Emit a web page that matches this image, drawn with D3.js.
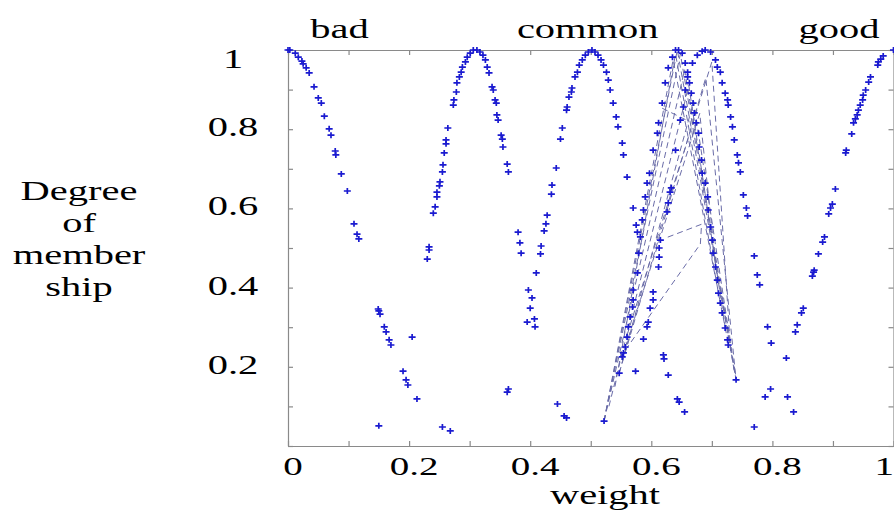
<!DOCTYPE html>
<html>
<head>
<meta charset="utf-8">
<script src="https://cdn.jsdelivr.net/npm/d3@7"></script>
<style>
body { margin: 0; background: #fff; }
text { font-family: "Liberation Serif", "Times New Roman", serif; fill: #000; }
</style>
</head>
<body>
<svg id="mainsvg" width="894" height="513"></svg>
<script>
// ---- data: [weight, degree of membership] ----
let badPts = [[0.0,1.0],[0.003,1.0],[0.012,0.992],[0.017,0.982],[0.023,0.972],[0.025,0.965],[0.030,0.955],
    [0.035,0.942],[0.043,0.907],[0.050,0.879],[0.055,0.866],[0.060,0.833],[0.068,0.801],[0.071,0.785],
    [0.078,0.745],[0.079,0.735],[0.088,0.687],[0.098,0.644],[0.109,0.561],[0.114,0.535],[0.117,0.523],
    [0.149,0.346],[0.150,0.341],[0.152,0.333],[0.159,0.301],[0.162,0.288],[0.167,0.268],[0.170,0.255],
    [0.190,0.189],[0.195,0.167],[0.198,0.154],[0.213,0.119]];

let curveA = [[0.230,0.472],[0.233,0.503],[0.233,0.495],[0.240,0.588],[0.243,0.604],[0.246,0.629],[0.246,0.641],
    [0.250,0.657],[0.251,0.667],[0.255,0.692],[0.256,0.710],[0.258,0.740],[0.261,0.763],[0.261,0.773],
    [0.264,0.803],[0.273,0.861],[0.274,0.874],[0.278,0.894],[0.279,0.917],[0.283,0.932],[0.286,0.944],
    [0.288,0.957],[0.293,0.970],[0.296,0.982],[0.301,0.992],[0.306,1.0],[0.312,1.0],[0.317,0.995],
    [0.322,0.987],[0.326,0.975],[0.329,0.957],[0.332,0.942],[0.337,0.907],[0.339,0.899],[0.342,0.874],
    [0.344,0.866],[0.345,0.836],[0.347,0.823],[0.352,0.785],[0.354,0.775],[0.355,0.755],[0.362,0.712],
    [0.364,0.692],[0.380,0.540],[0.383,0.513],[0.385,0.487],[0.397,0.394],[0.403,0.374],[0.400,0.348],
    [0.395,0.313],[0.407,0.321],[0.408,0.301]];

let curveB = [[0.410,0.437],[0.417,0.485],[0.418,0.505],[0.423,0.543],[0.426,0.561],[0.428,0.583],[0.435,0.636],
    [0.436,0.659],[0.443,0.702],[0.450,0.775],[0.453,0.803],[0.460,0.848],[0.461,0.856],[0.464,0.881],
    [0.468,0.894],[0.469,0.904],[0.474,0.932],[0.478,0.944],[0.481,0.962],[0.486,0.975],[0.491,0.987],
    [0.496,0.995],[0.502,1.0],[0.507,0.995],[0.512,0.987],[0.517,0.975],[0.521,0.962],[0.526,0.944],
    [0.529,0.924],[0.532,0.899],[0.537,0.866],[0.542,0.831],[0.545,0.806],[0.552,0.765],[0.554,0.735],
    [0.560,0.679],[0.570,0.601],[0.575,0.558],[0.577,0.540]];

let curveC = [[0.522,0.063],[0.547,0.184],[0.552,0.225],[0.554,0.235],[0.557,0.250],[0.560,0.275],[0.562,0.301],
    [0.565,0.326],[0.569,0.351],[0.570,0.369],[0.570,0.394],[0.577,0.437],[0.579,0.487],[0.582,0.528],
    [0.585,0.571],[0.587,0.596],[0.590,0.629],[0.593,0.664],[0.597,0.689],[0.603,0.747],[0.610,0.790],
    [0.612,0.816],[0.618,0.866],[0.623,0.917],[0.628,0.955],[0.635,0.982],[0.640,1.0],[0.645,1.0],
    [0.651,0.992],[0.656,0.967],[0.660,0.944],[0.663,0.917],[0.666,0.891],[0.669,0.866],[0.671,0.841],
    [0.674,0.816],[0.678,0.790],[0.679,0.755],[0.683,0.722],[0.684,0.689],[0.689,0.664],[0.693,0.629],
    [0.694,0.596],[0.698,0.553],[0.701,0.520],[0.702,0.487],[0.706,0.452],[0.709,0.419],[0.711,0.386],
    [0.714,0.361],[0.717,0.336],[0.722,0.298],[0.726,0.268],[0.727,0.255],[0.740,0.167]];

let curveD = [[0.574,0.189],[0.587,0.270],[0.593,0.301],[0.595,0.313],[0.598,0.348],[0.603,0.369],[0.603,0.389],
    [0.612,0.452],[0.613,0.477],[0.613,0.500],[0.615,0.520],[0.626,0.591],[0.628,0.614],[0.631,0.641],
    [0.633,0.652],[0.640,0.747],[0.648,0.823],[0.653,0.856],[0.656,0.899],[0.660,0.932],[0.668,0.967],
    [0.676,0.987],[0.684,0.997],[0.689,1.0],[0.698,0.995],[0.706,0.975],[0.709,0.957],[0.714,0.944],
    [0.717,0.917],[0.722,0.891],[0.726,0.874],[0.727,0.861],[0.731,0.831],[0.734,0.806],[0.737,0.773],
    [0.742,0.735],[0.744,0.715],[0.747,0.692],[0.752,0.634],[0.757,0.601],[0.759,0.581],[0.770,0.480],
    [0.775,0.432],[0.779,0.407],[0.792,0.301],[0.798,0.260]];

let goodPts = [[0.838,0.288],[0.841,0.306],[0.848,0.336],[0.851,0.348],[0.866,0.429],[0.868,0.439],[0.869,0.444],
    [0.876,0.485],[0.883,0.515],[0.886,0.528],[0.893,0.586],[0.896,0.601],[0.899,0.611],[0.904,0.649],
    [0.921,0.740],[0.922,0.747],[0.931,0.788],[0.934,0.816],[0.937,0.826],[0.940,0.836],[0.942,0.848],
    [0.945,0.861],[0.949,0.874],[0.950,0.886],[0.954,0.899],[0.959,0.919],[0.962,0.932],[0.974,0.962],
    [0.975,0.970],[0.979,0.977],[0.983,0.985],[1.0,1.0]];

let strayPts = [[0.150,0.051],[0.205,0.275],[0.255,0.048],[0.268,0.038],[0.362,0.136],[0.364,0.144],
    [0.445,0.106],[0.456,0.076],[0.460,0.071],[0.620,0.230],[0.621,0.220],[0.628,0.179],[0.643,0.119],
    [0.646,0.111],[0.655,0.086],[0.770,0.048],[0.788,0.124],[0.797,0.144],[0.823,0.222],[0.825,0.124],
    [0.835,0.086]];

// dashed paths running through the dense region
let fanLines = [
    [[0.522,0.063],[0.643,1.0],[0.740,0.167]],
    [[0.522,0.063],[0.648,0.99],[0.737,0.19]],
    [[0.522,0.063],[0.636,0.975],[0.727,0.26]],
    [[0.522,0.063],[0.655,0.95],[0.740,0.167]],
    [[0.530,0.10],[0.662,0.91],[0.722,0.30]],
    [[0.540,0.15],[0.640,0.99],[0.714,0.36]],
    [[0.547,0.184],[0.670,0.87],[0.740,0.167]],
    [[0.552,0.225],[0.680,0.84],[0.709,0.42]],
    [[0.547,0.184],[0.690,0.93],[0.740,0.167]],
    [[0.560,0.28],[0.700,0.97],[0.731,0.24]],
    [[0.557,0.242],[0.681,0.51],[0.683,0.56],[0.623,0.525]],
    [[0.618,0.853],[0.658,0.823]]
];

let xTickVals = [0,0.1,0.2,0.3,0.4,0.5,0.6,0.7,0.8,0.9,1];
let yTickVals = [0,0.1,0.2,0.3,0.4,0.5,0.6,0.7,0.8,0.9,1];
let xLabels = [[0,"0"],[0.2,"0.2"],[0.4,"0.4"],[0.6,"0.6"],[0.8,"0.8"],[1,"1"]];
let yLabels = [[0.2,"0.2"],[0.4,"0.4"],[0.6,"0.6"],[0.8,"0.8"],[1,"1"]];
let topLabels = [[0.085,"bad"],[0.495,"common"],[0.91,"good"]];
let yTitle = ["Degree","of","member","ship"];
let xTitle = "weight";

// ---- drawing ----
let svg = d3.select("#mainsvg");
let plotL = 288, plotR = 893.5, plotT = 50, plotB = 446;
let x = d3.scaleLinear().domain([0, 1]).range([plotL, plotR]);
let y = d3.scaleLinear().domain([0, 1]).range([plotB, plotT]);
let axisColor = "#8a8a8a";
let stretch = 1.5;   // the source picture is widened horizontally

function stretchedText(g, tx, ty, str, anchor, size) {
    g.append("text")
        .attr("transform", "translate(" + tx + "," + ty + ") scale(" + stretch + ",1)")
        .attr("text-anchor", anchor || "middle")
        .attr("font-size", size || 27)
        .text(str);
}

// box + inward ticks
let axesG = svg.append("g");
axesG.append("g").attr("transform", "translate(0," + plotB + ")")
    .call(d3.axisBottom(x).tickValues(xTickVals).tickSize(-5).tickSizeOuter(0).tickFormat(""));
axesG.append("g").attr("transform", "translate(0," + plotT + ")")
    .call(d3.axisTop(x).tickValues(xTickVals).tickSize(-5).tickSizeOuter(0).tickFormat(""));
axesG.append("g").attr("transform", "translate(" + plotL + ",0)")
    .call(d3.axisLeft(y).tickValues(yTickVals).tickSize(-5).tickSizeOuter(0).tickFormat(""));
axesG.append("g").attr("transform", "translate(" + plotR + ",0)")
    .call(d3.axisRight(y).tickValues(yTickVals).tickSize(-5).tickSizeOuter(0).tickFormat(""));
axesG.selectAll("path, line").attr("stroke", axisColor).attr("stroke-width", 1.2);

// dashed lines
let line = d3.line().x(d => x(d[0])).y(d => y(d[1]));
svg.append("g").selectAll("path").data(fanLines).enter()
    .append("path")
    .attr("d", line)
    .attr("fill", "none")
    .attr("stroke", "#6a6ca8")
    .attr("stroke-width", 1)
    .attr("stroke-dasharray", "6,4");

// markers
let allPts = [].concat(badPts, curveA, curveB, curveC, curveD, goodPts, strayPts);
svg.append("g").selectAll("path").data(allPts).enter()
    .append("path")
    .attr("transform", d => "translate(" + x(d[0]) + "," + y(d[1]) + ")")
    .attr("d", "M-3.5,0H3.5M0,-3V3")
    .attr("stroke", "#1a1ad0")
    .attr("stroke-width", 1.7);

// labels
let textG = svg.append("g");
xLabels.forEach(d => {
    if (d[0] === 1) stretchedText(textG, 894, 475, d[1], "end", 26);
    else stretchedText(textG, x(d[0]) + 5, 475, d[1], "middle", 26);
});
yLabels.forEach(d => stretchedText(textG, 233, Math.max(y(d[0]) + 7, 68), d[1]));
topLabels.forEach(d => stretchedText(textG, x(d[0]), 38, d[1]));
yTitle.forEach((t, i) => stretchedText(textG, 79, 200 + i * 32, t));
stretchedText(textG, 605, 504, xTitle);
</script>
</body>
</html>
